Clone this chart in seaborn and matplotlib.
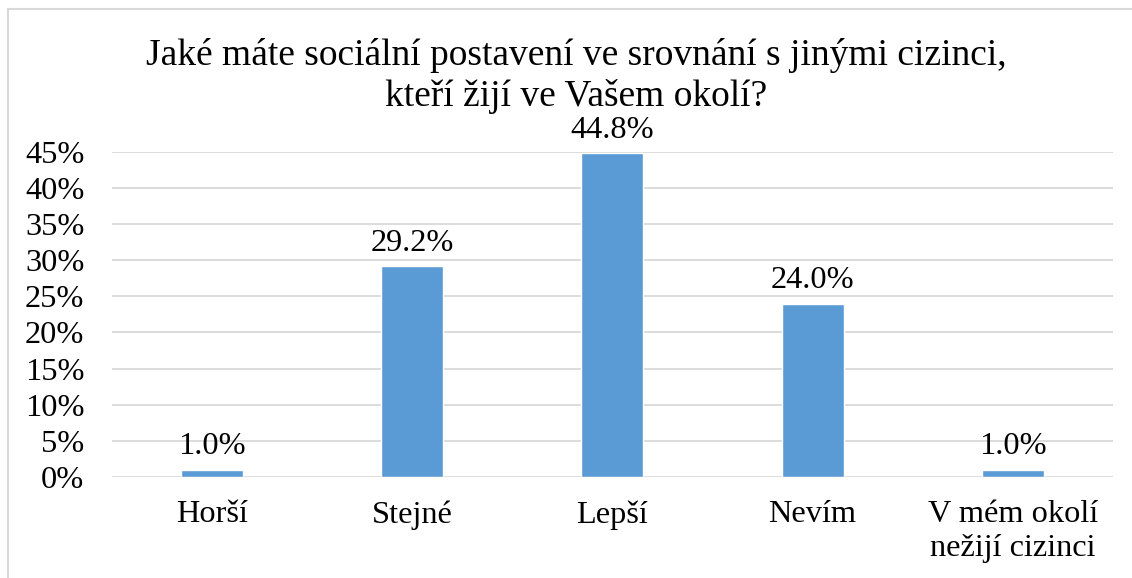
import seaborn as sns
import matplotlib.pyplot as plt
from matplotlib.lines import Line2D
import pandas as pd

categories = ["Horší", "Stejné", "Lepší", "Nevím", "V mém okolí\nnežijí cizinci"]
shares = [1.0, 29.2, 44.8, 24.0, 1.0]
yticks = [0, 5, 10, 15, 20, 25, 30, 35, 40, 45]
title = "Jaké máte sociální postavení ve srovnání s jinými cizinci,\nkteří žijí ve Vašem okolí?"

sns.set_style("white")
plt.rcParams["font.family"] = ["Liberation Serif", "DejaVu Serif"]
plt.rcParams["text.color"] = "black"
plt.rcParams["xtick.color"] = "black"
plt.rcParams["ytick.color"] = "black"

df = pd.DataFrame({"cat": categories, "share": shares})

fig = plt.figure(figsize=(11.32, 5.78), dpi=100)
ax = fig.add_axes([0.099, 0.175, 0.884, 0.562])

sns.barplot(data=df, x="cat", y="share", color="#5b9bd5", saturation=1,
            width=0.31, ax=ax, zorder=3)

ax.set_ylim(0, 45)
ax.set_xlim(-0.5, 4.5)
ax.set_yticks(yticks)
ax.set_yticklabels([f"{t}%" for t in yticks], fontsize=23.3)
ax.tick_params(axis="y", length=0, pad=20)
ax.tick_params(axis="x", length=0, pad=17, labelsize=23.3)
ax.yaxis.grid(True, color="#d9d9d9", linewidth=1.3, zorder=0)
ax.set_axisbelow(True)
for s in ax.spines.values():
    s.set_visible(False)
ax.set_xlabel("")
ax.set_ylabel("")

for c in ax.containers:
    ax.bar_label(c, labels=[f"{v:.1f}%" for v in shares], fontsize=23.3, padding=6)

fig.text(0.509, 0.935, title, ha="center", va="top", fontsize=27, linespacing=1.25)

# light chart border, only left and top edges are inside the image
fig.add_artist(Line2D([0.0075, 0.0075], [0, 0.9845], transform=fig.transFigure,
                      color="#d9d9d9", linewidth=1.5))
fig.add_artist(Line2D([0.0075, 1.0], [0.9845, 0.9845], transform=fig.transFigure,
                      color="#d9d9d9", linewidth=1.5))

plt.savefig("out.png", format="png")
